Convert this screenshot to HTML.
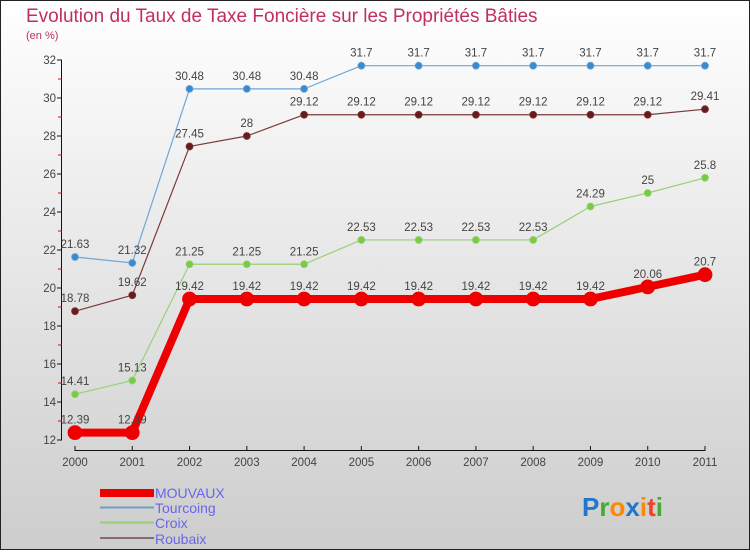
<!DOCTYPE html>
<html><head><meta charset="utf-8"><style>
html,body{margin:0;padding:0}
body{width:750px;height:550px;overflow:hidden;font-family:"Liberation Sans",sans-serif}
</style></head><body>
<svg id="chart" width="750" height="550" xmlns="http://www.w3.org/2000/svg">
<defs>
<linearGradient id="bg" x1="0" y1="0" x2="0" y2="1">
<stop offset="0" stop-color="#ffffff"/><stop offset="1" stop-color="#cdcdcd"/>
</linearGradient>
</defs>
<rect x="0.5" y="0.5" width="749" height="549" fill="url(#bg)" stroke="#222"/>
<text x="26" y="22" font-size="19" fill="#c0305a">Evolution du Taux de Taxe Foncière sur les Propriétés Bâties</text>
<text x="26" y="39" font-size="11" fill="#c0305a">(en %)</text>
<g id="axes"></g>
<g id="series"></g>
<g id="legend">
<rect x="100" y="489" width="54" height="8" fill="#e00"/>
<text x="155" y="498" font-size="14" fill="#6666ee">MOUVAUX</text>
<line x1="100" y1="507.5" x2="154" y2="507.5" stroke="#6f9ec0" stroke-width="2"/>
<text x="155" y="513" font-size="14" fill="#6666ee">Tourcoing</text>
<line x1="100" y1="522.5" x2="154" y2="522.5" stroke="#99cc77" stroke-width="2"/>
<text x="155" y="528" font-size="14" fill="#6666ee">Croix</text>
<line x1="100" y1="538" x2="154" y2="538" stroke="#8a6a6a" stroke-width="2"/>
<text x="155" y="544" font-size="14" fill="#6666ee">Roubaix</text>
</g>
<g font-size="26" font-weight="bold">
<text x="582" y="516"><tspan fill="#2277cc">P</tspan><tspan fill="#44aa33">r</tspan><tspan fill="#ff8800">o</tspan><tspan fill="#2277cc">x</tspan><tspan fill="#ff8800">i</tspan><tspan fill="#ee4422">t</tspan><tspan fill="#44aa33">i</tspan></text>
</g>
</svg>
<script>
const years = ["2000","2001","2002","2003","2004","2005","2006","2007","2008","2009","2010","2011"];
const yTicks = [12,14,16,18,20,22,24,26,28,30,32];
const mouvaux = [12.39,12.39,19.42,19.42,19.42,19.42,19.42,19.42,19.42,19.42,20.06,20.7];
const tourcoing = [21.63,21.32,30.48,30.48,30.48,31.7,31.7,31.7,31.7,31.7,31.7,31.7];
const croix = [14.41,15.13,21.25,21.25,21.25,22.53,22.53,22.53,22.53,24.29,25,25.8];
const roubaix = [18.78,19.62,27.45,28,29.12,29.12,29.12,29.12,29.12,29.12,29.12,29.41];

const NS="http://www.w3.org/2000/svg";
const X0=75,X1=705,Y0=440,Y1=60,VMIN=12,VMAX=32;
function xs(i){return X0+(X1-X0)*i/(years.length-1);}
function ys(v){return Y0-(v-VMIN)/(VMAX-VMIN)*(Y0-Y1);}
function mk(tag,attrs,parent){const e=document.createElementNS(NS,tag);for(const k in attrs)e.setAttribute(k,attrs[k]);parent.appendChild(e);return e;}
const axes=document.getElementById('axes');
let l=mk('line',{x1:61.5,y1:Y1,x2:61.5,y2:Y0,stroke:'#111','stroke-width':1},axes);


l=mk('line',{x1:X0,y1:450.5,x2:X1,y2:450.5,stroke:'#111','stroke-width':1},axes);


yTicks.forEach((v,i)=>{
  const y=ys(v);
  mk('line',{x1:57,y1:y,x2:62,y2:y,stroke:'#111'},axes);
  if(i<yTicks.length-1){mk('line',{x1:58,y1:ys(v+1),x2:62,y2:ys(v+1),stroke:'#e00'},axes);}
  const t=mk('text',{x:56,y:y+4,'font-size':11.5,fill:'#444','text-anchor':'end'},axes);
  t.textContent=v;
  
  
});
years.forEach((yr,i)=>{
  const x=xs(i);
  mk('line',{x1:x,y1:446,x2:x,y2:451,stroke:'#111'},axes);
  const t=mk('text',{x:x,y:466,'font-size':11.5,fill:'#444','text-anchor':'middle'},axes);
  t.textContent=yr;
  
  
});
const sg=document.getElementById('series');
function drawSeries(vals,name,color,dot,width,r){
  const g=mk('g',{},sg);
  
  
  const p=mk('polyline',{points:vals.map((v,i)=>xs(i)+','+ys(v)).join(' '),fill:'none',stroke:color,'stroke-width':width,'stroke-linejoin':'round'},g);
  
  
  vals.forEach((v,i)=>{
    const c=mk('circle',{cx:xs(i),cy:ys(v),r:r,fill:dot,stroke:color,'stroke-width':0.8},g);
    
    
    const t=mk('text',{x:xs(i),y:ys(v)-9,'font-size':11.5,fill:'#444','text-anchor':'middle'},g);
    t.textContent=v;
    
    
  });
}
drawSeries(roubaix,'roubaix','#7a3a3a','#6a1a1a',1.2,3.5);
drawSeries(croix,'croix','#99d077','#77cc44',1.2,3.5);
drawSeries(tourcoing,'tourcoing','#6fa6d6','#3a8ad0',1.2,3.5);
drawSeries(mouvaux,'mouvaux','#ee0000','#ee0000',8,7);
</script>
</body></html>
